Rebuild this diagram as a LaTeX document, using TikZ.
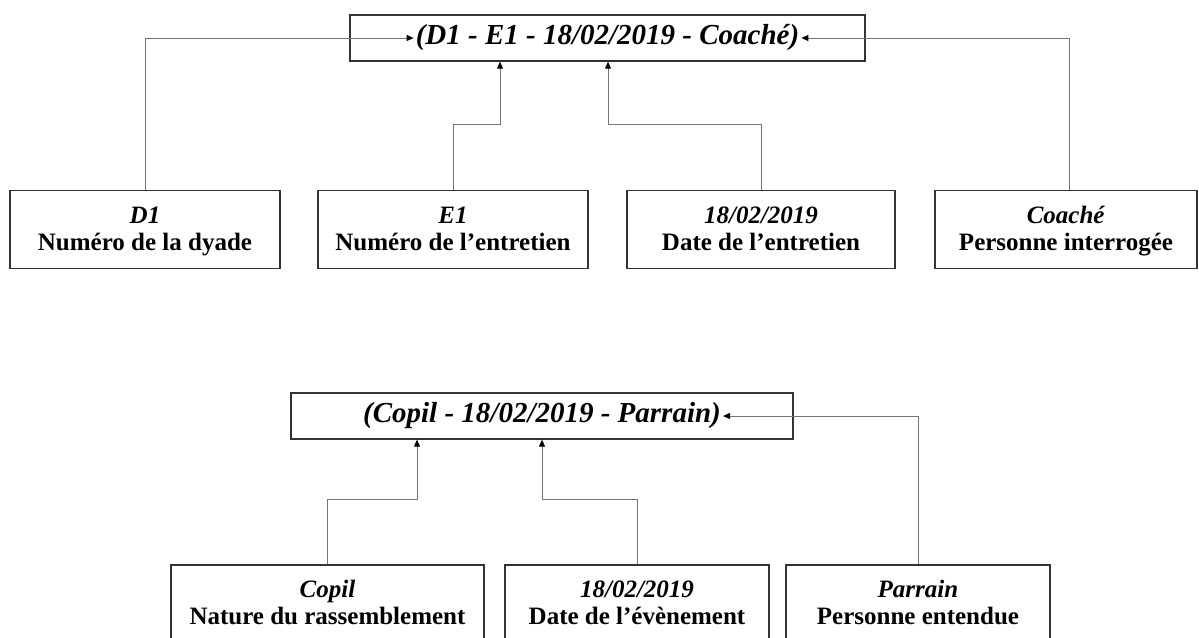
\documentclass[tikz,border=0pt]{standalone}
\usepackage{fontspec}
\setmainfont{Liberation Serif}
\usetikzlibrary{arrows.meta}
\newcommand\twoln[2]{\rule{0pt}{20pt}\textit{#1}\\#2\rule[-6pt]{0pt}{6pt}}
\begin{document}
\begin{tikzpicture}[x=1pt,y=-1pt,
  box/.style={draw=black!80, line width=1.3pt, minimum height=78pt, inner sep=0pt, align=center,
    font=\fontsize{25}{27}\selectfont\bfseries},
  titlebox/.style={draw=black!80, line width=1.3pt, minimum height=46pt, inner sep=0pt},
  ttext/.style={inner xsep=2pt, inner ysep=0pt, font=\fontsize{29}{32}\selectfont\bfseries\itshape},
  link/.style={draw=black!55, line width=0.9pt},
  arr/.style={link, -{Triangle[length=7pt,width=6pt,color=black]}}]
\useasboundingbox (0,0) rectangle (1199,637);

% top group
\node[titlebox, minimum width=515pt] (T1) at (607.5,38) {};
\node[ttext] (t1) at (T1.center) {(D1 - E1 - 18/02/2019 - Coaché)};
\node[box, minimum width=270pt] (d1) at (145,229.5) {\twoln{D1}{Numéro de la dyade}};
\node[box, minimum width=270pt] (e1) at (453,229.5) {\twoln{E1}{Numéro de l’entretien}};
\node[box, minimum width=268pt] (dt) at (761,229.5) {\twoln{18/02/2019}{Date de l’entretien}};
\node[box, minimum width=262pt] (co) at (1066,229.5) {\twoln{Coaché}{Personne interrogée}};

\draw[arr] (d1.north) |- (t1.west);
\draw[arr] (e1.north) -- ++(0,-65) -| ([xshift=-107.5pt]T1.south);
\draw[arr] (dt.north) -- ++(0,-65) -| ([xshift=0.5pt]T1.south);
\draw[arr] ([xshift=3pt]co.north) |- (t1.east);

% bottom group
\node[titlebox, minimum width=502pt] (T2) at (542,416) {};
\node[ttext] (t2) at (T2.center) {(Copil - 18/02/2019 - Parrain)};
\node[box, minimum width=313pt] (cp) at (327.5,604) {\twoln{Copil}{Nature du rassemblement}};
\node[box, minimum width=264pt] (dv) at (637,604) {\twoln{18/02/2019}{Date de l’évènement}};
\node[box, minimum width=264pt] (pa) at (918,604) {\twoln{Parrain}{Personne entendue}};

\draw[arr] (cp.north) -- ++(0,-65) -| ([xshift=-125pt]T2.south);
\draw[arr] (dv.north) -- ++(0,-65) -| ([xshift=0pt]T2.south);
\draw[arr] (pa.north) |- (t2.east);
\end{tikzpicture}
\end{document}
